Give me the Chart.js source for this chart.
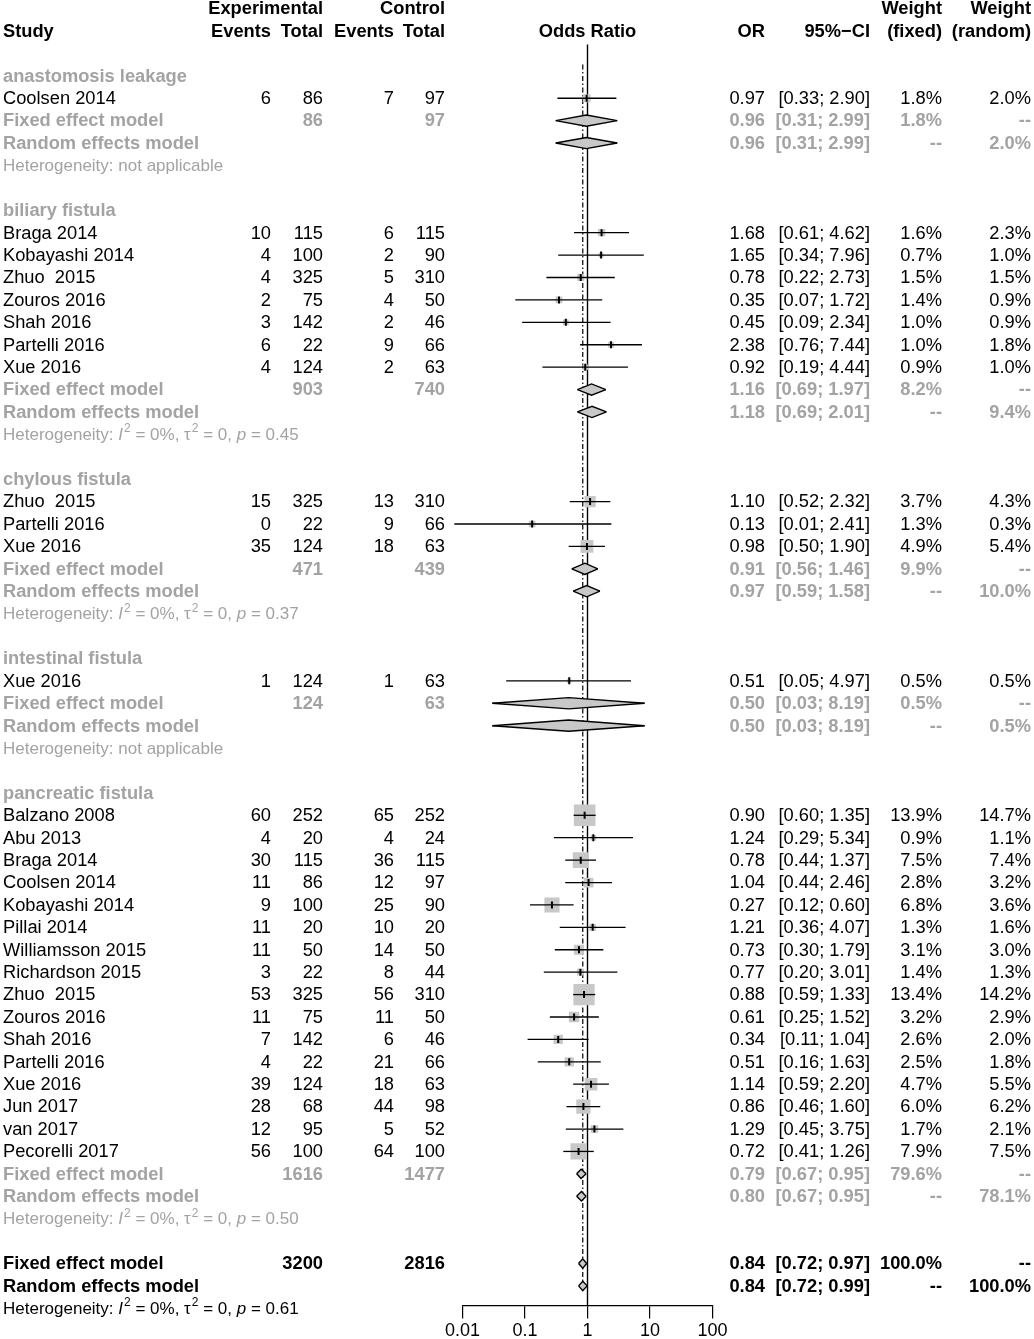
<!DOCTYPE html>
<html>
<head>
<meta charset="utf-8">
<title>Forest plot</title>
<script src="https://cdn.jsdelivr.net/npm/chart.js@4.4.1/dist/chart.umd.min.js"></script>
<style>
  html, body { margin: 0; padding: 0; background: #fff; }
  canvas { display: block; }
</style>
</head>
<body>
<canvas id="forest" width="1034" height="1339"></canvas>
<script>
// subgroups
const groupNames = ["anastomosis leakage", "biliary fistula", "chylous fistula", "intestinal fistula", "pancreatic fistula"];

// studies (in plot order)
const studyNames = ["Coolsen 2014",
  "Braga 2014", "Kobayashi 2014", "Zhuo  2015", "Zouros 2016", "Shah 2016", "Partelli 2016", "Xue 2016",
  "Zhuo  2015", "Partelli 2016", "Xue 2016",
  "Xue 2016",
  "Balzano 2008", "Abu 2013", "Braga 2014", "Coolsen 2014", "Kobayashi 2014", "Pillai 2014", "Williamsson 2015",
  "Richardson 2015", "Zhuo  2015", "Zouros 2016", "Shah 2016", "Partelli 2016", "Xue 2016", "Jun 2017", "van 2017", "Pecorelli 2017"];
const studyGroup = [0, 1, 1, 1, 1, 1, 1, 1, 2, 2, 2, 3, 4, 4, 4, 4, 4, 4, 4, 4, 4, 4, 4, 4, 4, 4, 4, 4];
const expEvents = [6, 10, 4, 4, 2, 3, 6, 4, 15, 0, 35, 1, 60, 4, 30, 11, 9, 11, 11, 3, 53, 11, 7, 4, 39, 28, 12, 56];
const expTotal = [86, 115, 100, 325, 75, 142, 22, 124, 325, 22, 124, 124, 252, 20, 115, 86, 100, 20, 50, 22, 325, 75, 142, 22, 124, 68, 95, 100];
const ctrlEvents = [7, 6, 2, 5, 4, 2, 9, 2, 13, 9, 18, 1, 65, 4, 36, 12, 25, 10, 14, 8, 56, 11, 6, 21, 18, 44, 5, 64];
const ctrlTotal = [97, 115, 90, 310, 50, 46, 66, 63, 310, 66, 63, 63, 252, 24, 115, 97, 90, 20, 50, 44, 310, 50, 46, 66, 63, 98, 52, 100];
const orEst = [0.97, 1.68, 1.65, 0.78, 0.35, 0.45, 2.38, 0.92, 1.10, 0.13, 0.98, 0.51, 0.90, 1.24, 0.78, 1.04, 0.27, 1.21, 0.73, 0.77, 0.88, 0.61, 0.34, 0.51, 1.14, 0.86, 1.29, 0.72];
const ciLow = [0.33, 0.61, 0.34, 0.22, 0.07, 0.09, 0.76, 0.19, 0.52, 0.0074, 0.50, 0.05, 0.60, 0.29, 0.44, 0.44, 0.12, 0.36, 0.30, 0.20, 0.59, 0.25, 0.11, 0.16, 0.59, 0.46, 0.45, 0.41];
const ciHigh = [2.90, 4.62, 7.96, 2.73, 1.72, 2.34, 7.44, 4.44, 2.32, 2.41, 1.90, 4.97, 1.35, 5.34, 1.37, 2.46, 0.60, 4.07, 1.79, 3.01, 1.33, 1.52, 1.04, 1.63, 2.20, 1.60, 3.75, 1.26];
const wFixed = [1.8, 1.6, 0.7, 1.5, 1.4, 1.0, 1.0, 0.9, 3.7, 1.3, 4.9, 0.5, 13.9, 0.9, 7.5, 2.8, 6.8, 1.3, 3.1, 1.4, 13.4, 3.2, 2.6, 2.5, 4.7, 6.0, 1.7, 7.9];
const wRandom = [2.0, 2.3, 1.0, 1.5, 0.9, 0.9, 1.8, 1.0, 4.3, 0.3, 5.4, 0.5, 14.7, 1.1, 7.4, 3.2, 3.6, 1.6, 3.0, 1.3, 14.2, 2.9, 2.0, 1.8, 5.5, 6.2, 2.1, 7.5];

// subgroup summaries
const grpExpTotal = [86, 903, 471, 124, 1616];
const grpCtrlTotal = [97, 740, 439, 63, 1477];
const fixedOR = [0.96, 1.16, 0.91, 0.50, 0.79];
const fixedLow = [0.31, 0.69, 0.56, 0.03, 0.67];
const fixedHigh = [2.99, 1.97, 1.46, 8.19, 0.95];
const fixedW = [1.8, 8.2, 9.9, 0.5, 79.6];
const randomOR = [0.96, 1.18, 0.97, 0.50, 0.80];
const randomLow = [0.31, 0.69, 0.59, 0.03, 0.67];
const randomHigh = [2.99, 2.01, 1.58, 8.19, 0.95];
const randomW = [2.0, 9.4, 10.0, 0.5, 78.1];
const hetI2 = [null, 0, 0, null, 0];
const hetTau2 = [null, 0, 0, null, 0];
const hetP = [null, 0.45, 0.37, null, 0.50];

// overall
const totalExp = 3200;
const totalCtrl = 2816;
const overallFixed = [0.84, 0.72, 0.97]; // OR, low, high
const overallRandom = [0.84, 0.72, 0.99];
const overallHet = [0, 0, 0.61]; // I2, tau2, p

// x axis
const tickValues = [0.01, 0.1, 1, 10, 100];
const tickLabels = ["0.01", "0.1", "1", "10", "100"];

const FONT = "'Liberation Sans', Arial, Helvetica, sans-serif";
const GRAY = "#a3a3a3";
const BOX = "#c8c8c8";

// work out which row each line goes on
let row = 2;
const studyRow = [], groupRow = [], fixedRow = [], randomRow = [], hetRow = [];
groupNames.forEach((g, gi) => {
  groupRow.push(row++);
  studyNames.forEach((s, si) => {
    if (studyGroup[si] === gi) studyRow[si] = row++;
  });
  fixedRow.push(row++);
  randomRow.push(row++);
  hetRow.push(row++);
  row++; // blank line
});
const overallFixedRow = row++;
const overallRandomRow = row++;
const overallHetRow = row++;

const yMin = -31 / 22.4;
const yMax = 1274 / 22.4;

const datasets = [];

// reference line at 1 and dashed line at the fixed effect estimate
datasets.push({ data: [{ x: 1, y: 0.6 }, { x: 1, y: yMax }], borderColor: "#000", borderWidth: 1.4, pointRadius: 0, order: 6 });
datasets.push({
  data: [{ x: overallFixed[0], y: groupRow[0] - 0.5 }, { x: overallFixed[0], y: overallRandomRow + 0.2 }],
  borderColor: "#000", borderWidth: 1.2, borderDash: [5, 2.5, 1.5, 2.5], pointRadius: 0, order: 6,
});

// grey boxes, size by fixed weight
datasets.push({
  data: studyNames.map((s, i) => ({ x: orEst[i], y: studyRow[i] })),
  showLine: false, pointStyle: "rect",
  pointRadius: wFixed.map((w) => (5.8 * Math.sqrt(w)) / Math.SQRT2),
  pointBackgroundColor: BOX, pointBorderWidth: 0, order: 4,
});

// confidence intervals
studyNames.forEach((s, i) => {
  datasets.push({
    data: [{ x: ciLow[i], y: studyRow[i] }, { x: ciHigh[i], y: studyRow[i] }],
    borderColor: "#000", borderWidth: 1.3, pointRadius: 0, clip: false, order: 3,
  });
});

// point estimate tick
datasets.push({
  data: studyNames.map((s, i) => ({ x: orEst[i], y: studyRow[i] })),
  showLine: false, pointStyle: "line", pointRotation: 90, pointRadius: 3.5,
  pointBorderColor: "#000", pointBorderWidth: 2, order: 1,
});

function addDiamond(est, lo, hi, r) {
  const h = Math.log10(hi / lo) < 0.3 ? 0.21 : 0.25;
  const upper = datasets.length;
  datasets.push({
    data: [{ x: lo, y: r }, { x: est, y: r - h }, { x: hi, y: r }],
    borderColor: "#000", borderWidth: 1.4, pointRadius: 0, fill: false, order: 2,
  });
  datasets.push({
    data: [{ x: lo, y: r }, { x: est, y: r + h }, { x: hi, y: r }],
    borderColor: "#000", borderWidth: 1.4, pointRadius: 0, fill: upper, backgroundColor: BOX, order: 2,
  });
}

groupNames.forEach((g, gi) => {
  addDiamond(fixedOR[gi], fixedLow[gi], fixedHigh[gi], fixedRow[gi]);
  addDiamond(randomOR[gi], randomLow[gi], randomHigh[gi], randomRow[gi]);
});
addDiamond(overallFixed[0], overallFixed[1], overallFixed[2], overallFixedRow);
addDiamond(overallRandom[0], overallRandom[1], overallRandom[2], overallRandomRow);

// text columns
const COL = { study: 3, expEv: 271, expTot: 323, ctrlEv: 394, ctrlTot: 445, or: 765, ci: 870, wf: 942, wr: 1031 };

function f2(v) { return v.toFixed(2); }
function ciText(lo, hi) { return "[" + f2(lo) + "; " + f2(hi) + "]"; }
function pct(v) { return v.toFixed(1) + "%"; }

const textPlugin = {
  id: "forestText",
  afterDraw(chart) {
    const ctx = chart.ctx;
    const ys = chart.scales.y;
    const area = chart.chartArea;

    function put(text, x, r, align, bold, color, size) {
      ctx.font = (bold ? "bold " : "") + (size || 18.3) + "px " + FONT;
      ctx.fillStyle = color || "#000";
      ctx.textAlign = align || "right";
      ctx.textBaseline = "middle";
      ctx.fillText(String(text), x, ys.getPixelForValue(r) + 0.8);
    }

    function het(r, i2, tau2, p, color) {
      const y = ys.getPixelForValue(r) + 0.8;
      ctx.fillStyle = color;
      ctx.textAlign = "left";
      ctx.textBaseline = "middle";
      let x = COL.study;
      const parts = p === null
        ? [["Heterogeneity: not applicable", ""]]
        : [["Heterogeneity: ", ""], ["I", "italic "], ["2", "sup"], [" = " + i2 + "%, \u03c4", ""], ["2", "sup"],
           [" = " + tau2 + ", ", ""], ["p", "italic "], [" = " + f2(p), ""]];
      parts.forEach(([t, st]) => {
        if (st === "sup") {
          ctx.font = "12px " + FONT;
          ctx.fillText(t, x + 1, y - 6);
          x += ctx.measureText(t).width + 1;
        } else {
          ctx.font = st + "17px " + FONT;
          ctx.fillText(t, x, y);
          x += ctx.measureText(t).width;
        }
      });
    }

    ctx.save();
    // header
    put("Experimental", COL.expTot, -1, "right", true);
    put("Control", COL.ctrlTot, -1, "right", true);
    put("Weight", COL.wf, -1, "right", true);
    put("Weight", COL.wr, -1, "right", true);
    put("Study", COL.study, 0, "left", true);
    put("Events", COL.expEv, 0, "right", true);
    put("Total", COL.expTot, 0, "right", true);
    put("Events", COL.ctrlEv, 0, "right", true);
    put("Total", COL.ctrlTot, 0, "right", true);
    put("Odds Ratio", (area.left + area.right) / 2, 0, "center", true);
    put("OR", COL.or, 0, "right", true);
    put("95%\u2212CI", COL.ci, 0, "right", true);
    put("(fixed)", COL.wf, 0, "right", true);
    put("(random)", COL.wr, 0, "right", true);

    // studies
    studyNames.forEach((s, i) => {
      const r = studyRow[i];
      put(s, COL.study, r, "left");
      put(expEvents[i], COL.expEv, r);
      put(expTotal[i], COL.expTot, r);
      put(ctrlEvents[i], COL.ctrlEv, r);
      put(ctrlTotal[i], COL.ctrlTot, r);
      put(f2(orEst[i]), COL.or, r);
      put(ciText(ciLow[i], ciHigh[i]), COL.ci, r);
      put(pct(wFixed[i]), COL.wf, r);
      put(pct(wRandom[i]), COL.wr, r);
    });

    // subgroups
    groupNames.forEach((g, gi) => {
      put(g, COL.study, groupRow[gi], "left", true, GRAY);
      let r = fixedRow[gi];
      put("Fixed effect model", COL.study, r, "left", true, GRAY);
      put(grpExpTotal[gi], COL.expTot, r, "right", true, GRAY);
      put(grpCtrlTotal[gi], COL.ctrlTot, r, "right", true, GRAY);
      put(f2(fixedOR[gi]), COL.or, r, "right", true, GRAY);
      put(ciText(fixedLow[gi], fixedHigh[gi]), COL.ci, r, "right", true, GRAY);
      put(pct(fixedW[gi]), COL.wf, r, "right", true, GRAY);
      put("--", COL.wr, r, "right", true, GRAY);
      r = randomRow[gi];
      put("Random effects model", COL.study, r, "left", true, GRAY);
      put(f2(randomOR[gi]), COL.or, r, "right", true, GRAY);
      put(ciText(randomLow[gi], randomHigh[gi]), COL.ci, r, "right", true, GRAY);
      put("--", COL.wf, r, "right", true, GRAY);
      put(pct(randomW[gi]), COL.wr, r, "right", true, GRAY);
      het(hetRow[gi], hetI2[gi], hetTau2[gi], hetP[gi], GRAY);
    });

    // overall
    let r = overallFixedRow;
    put("Fixed effect model", COL.study, r, "left", true);
    put(totalExp, COL.expTot, r, "right", true);
    put(totalCtrl, COL.ctrlTot, r, "right", true);
    put(f2(overallFixed[0]), COL.or, r, "right", true);
    put(ciText(overallFixed[1], overallFixed[2]), COL.ci, r, "right", true);
    put("100.0%", COL.wf, r, "right", true);
    put("--", COL.wr, r, "right", true);
    r = overallRandomRow;
    put("Random effects model", COL.study, r, "left", true);
    put(f2(overallRandom[0]), COL.or, r, "right", true);
    put(ciText(overallRandom[1], overallRandom[2]), COL.ci, r, "right", true);
    put("--", COL.wf, r, "right", true);
    put("100.0%", COL.wr, r, "right", true);
    het(overallHetRow, overallHet[0], overallHet[1], overallHet[2], "#000");
    ctx.restore();
  },
};

new Chart(document.getElementById("forest"), {
  type: "line",
  data: { datasets: datasets },
  options: {
    responsive: false,
    animation: false,
    events: [],
    layout: { autoPadding: false, padding: { left: 462.5, right: 321.5, top: 0, bottom: -5.5 } },
    plugins: { legend: { display: false }, tooltip: { enabled: false } },
    scales: {
      x: {
        type: "logarithmic",
        min: 0.01,
        max: 100,
        afterBuildTicks: (axis) => {
          axis.ticks = tickValues.map((v) => ({ value: v }));
        },
        ticks: {
          autoSkip: false,
          maxRotation: 0,
          padding: 4,
          color: "#000",
          font: { family: FONT, size: 18, lineHeight: 1 },
          callback: (v) => tickLabels[tickValues.indexOf(v)],
        },
        grid: { drawOnChartArea: false, drawTicks: true, tickLength: 13, color: "#000", lineWidth: 1.2 },
        border: { display: true, color: "#000", width: 1.2 },
      },
      y: {
        type: "linear",
        display: false,
        reverse: true,
        min: yMin,
        max: yMax,
      },
    },
  },
  plugins: [textPlugin],
});
</script>
</body>
</html>
